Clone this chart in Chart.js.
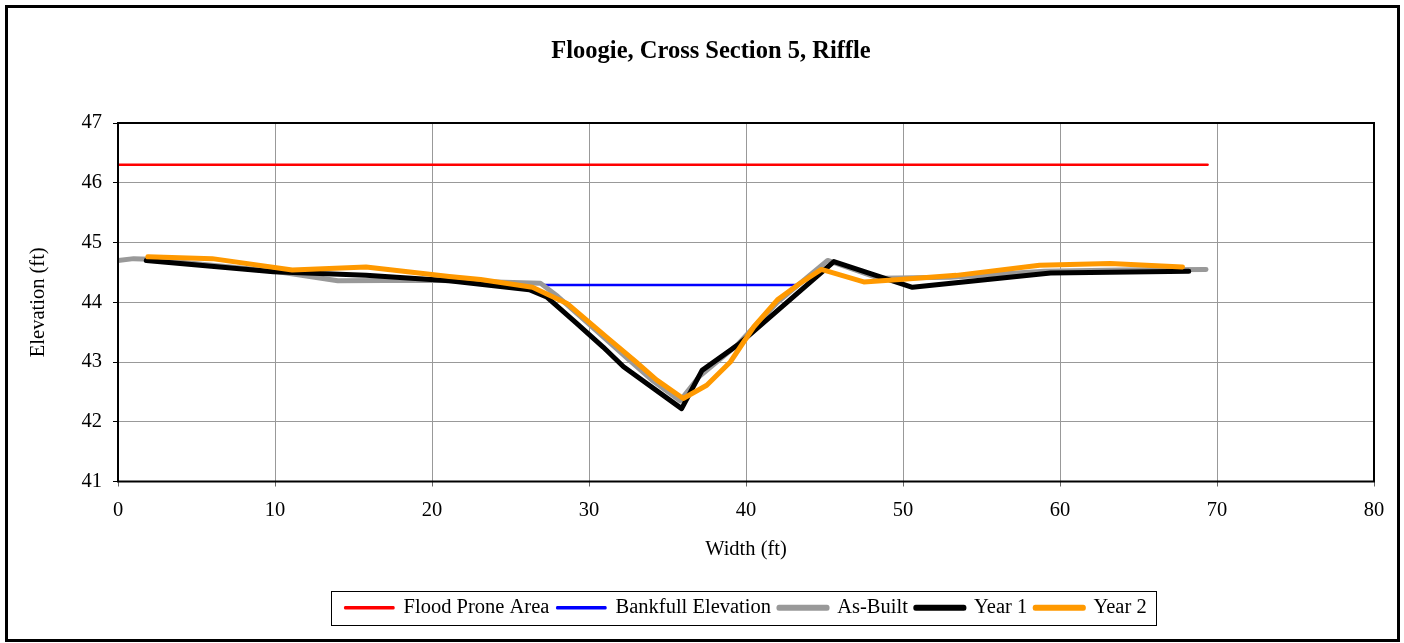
<!DOCTYPE html>
<html>
<head>
<meta charset="utf-8">
<script src="https://cdn.jsdelivr.net/npm/chart.js@4"></script>
<style>
  html, body { margin: 0; padding: 0; background: #fff; }
  #wrap { width: 1404px; height: 643px; }
</style>
</head>
<body>
<div id="wrap"><canvas id="xsChart" width="1404" height="643"></canvas></div>
<script>
// tick labels / axis ranges
const xTicks = [0, 10, 20, 30, 40, 50, 60, 70, 80];
const yTicks = [41, 42, 43, 44, 45, 46, 47];

// flood prone area and bankfull lines
const floodX = [0, 69.4];
const floodY = [46.3, 46.3];
const bankX = [27.0, 43.2];
const bankY = [44.29, 44.29];

// as-built survey
const asBuiltX = [0, 1, 2, 10, 14, 20, 26.9, 28, 29.5, 31, 32.5, 34, 35.8, 37, 39.5, 42, 45.2, 48.5, 53, 59, 64, 69.3];
const asBuiltY = [44.70, 44.73, 44.72, 44.52, 44.36, 44.37, 44.32, 44.10, 43.75, 43.40, 43.05, 42.70, 42.35, 42.75, 43.30, 44.00, 44.70, 44.40, 44.42, 44.52, 44.54, 44.55];

// year 1 survey
const year1X = [1.8, 9.9, 15.8, 21.1, 26.2, 27.3, 29.2, 30.9, 32.2, 35.9, 37.2, 39.6, 45.6, 50.6, 59.4, 68.2];
const year1Y = [44.70, 44.51, 44.45, 44.36, 44.21, 44.09, 43.65, 43.25, 42.92, 42.22, 42.86, 43.31, 44.68, 44.25, 44.49, 44.52];

// year 2 survey
const year2X = [1.9, 6.0, 11.1, 15.8, 21.1, 23.1, 26.4, 28.6, 31.1, 33.0, 34.3, 36.0, 37.5, 39.0, 40.5, 42.0, 43.4, 44.8, 47.5, 49.8, 53.4, 58.7, 63.2, 67.8];
const year2Y = [44.76, 44.73, 44.54, 44.59, 44.43, 44.38, 44.25, 43.98, 43.42, 43.00, 42.70, 42.39, 42.61, 43.00, 43.59, 44.04, 44.31, 44.55, 44.34, 44.38, 44.45, 44.62, 44.65, 44.59];

const seriesNames = ['Flood Prone Area', 'Bankfull Elevation', 'As-Built', 'Year 1', 'Year 2'];

function pts(xs, ys) {
    return xs.map((x, i) => ({ x: x, y: ys[i] }));
}

const serif = 'Liberation Serif, Times New Roman, serif';

// frame, plot border, legend box and title
const decorPlugin = {
    id: 'decor',
    afterDraw(chart) {
        const ctx = chart.ctx;
        const a = chart.chartArea;
        ctx.save();
        // plot border
        ctx.strokeStyle = '#000';
        ctx.lineWidth = 2;
        ctx.strokeRect(a.left, a.top, a.right - a.left, a.bottom - a.top);
        // outer frame
        ctx.lineWidth = 3;
        ctx.strokeRect(6.5, 6.5, 1392, 634);
        // legend box
        const boxes = chart.legend.legendHitBoxes;
        if (boxes && boxes.length) {
            let l = Infinity, r = -Infinity, t = Infinity, b = -Infinity;
            boxes.forEach(h => {
                l = Math.min(l, h.left); r = Math.max(r, h.left + h.width);
                t = Math.min(t, h.top); b = Math.max(b, h.top + h.height);
            });
            ctx.lineWidth = 1;
            ctx.strokeRect(Math.round(l - 14) + 0.5, Math.round(t - 7) + 0.5, Math.round(r - l + 24), Math.round(b - t + 13));
        }
        // title
        ctx.fillStyle = '#000';
        ctx.font = 'bold 24.5px ' + serif;
        ctx.textAlign = 'center';
        ctx.textBaseline = 'middle';
        ctx.fillText('Floogie, Cross Section 5, Riffle', 711, 52);
        ctx.restore();
    }
};

const ctx = document.getElementById('xsChart').getContext('2d');
const xsChart = new Chart(ctx, {
    type: 'scatter',
    data: {
        datasets: [
            { label: seriesNames[0], data: pts(floodX, floodY), borderColor: '#ff0000', backgroundColor: '#ff0000', borderWidth: 2.5, order: 5 },
            { label: seriesNames[1], data: pts(bankX, bankY), borderColor: '#0000ff', backgroundColor: '#0000ff', borderWidth: 2.5, order: 4 },
            { label: seriesNames[2], data: pts(asBuiltX, asBuiltY), borderColor: '#999999', backgroundColor: '#999999', borderWidth: 5, order: 3 },
            { label: seriesNames[3], data: pts(year1X, year1Y), borderColor: '#000000', backgroundColor: '#000000', borderWidth: 5, order: 2 },
            { label: seriesNames[4], data: pts(year2X, year2Y), borderColor: '#ff9900', backgroundColor: '#ff9900', borderWidth: 5, order: 1 }
        ]
    },
    options: {
        responsive: false,
        animation: false,
        showLine: true,
        layout: { padding: { left: 10, top: 123, right: 30, bottom: 15 } },
        elements: {
            point: { radius: 0, hoverRadius: 0 },
            line: { tension: 0, borderCapStyle: 'round', borderJoinStyle: 'round' }
        },
        scales: {
            x: {
                type: 'linear',
                min: 0, max: 80,
                afterBuildTicks: s => { s.ticks = xTicks.map(v => ({ value: v })); },
                afterFit: s => { s.height = 108; },
                grid: { color: '#999', tickLength: 5, tickColor: '#666' },
                border: { display: false },
                ticks: { color: '#000', padding: 12, maxRotation: 0, font: { family: serif, size: 20.5 } },
                title: { display: true, text: 'Width (ft)', color: '#000', padding: { top: 0, bottom: 28 }, font: { family: serif, size: 20.5 } }
            },
            y: {
                min: 41, max: 47,
                afterBuildTicks: s => { s.ticks = yTicks.map(v => ({ value: v })); },
                afterFit: s => { s.width = 108; },
                grid: { color: '#999', tickLength: 5, tickColor: '#000' },
                border: { display: false },
                ticks: { color: '#000', padding: 11, font: { family: serif, size: 20.5 } },
                title: { display: true, text: 'Elevation (ft)', color: '#000', padding: { top: 16, bottom: 0 }, font: { family: serif, size: 20.5 } }
            }
        },
        plugins: {
            legend: {
                position: 'bottom',
                fullSize: false,
                labels: {
                    color: '#000',
                    boxWidth: 48,
                    boxHeight: 1,
                    padding: 8,
                    font: { family: serif, size: 20.5 },
                    sort: (a, b) => a.datasetIndex - b.datasetIndex
                }
            },
            title: { display: false },
            tooltip: { enabled: false }
        }
    },
    plugins: [decorPlugin]
});
</script>
</body>
</html>
